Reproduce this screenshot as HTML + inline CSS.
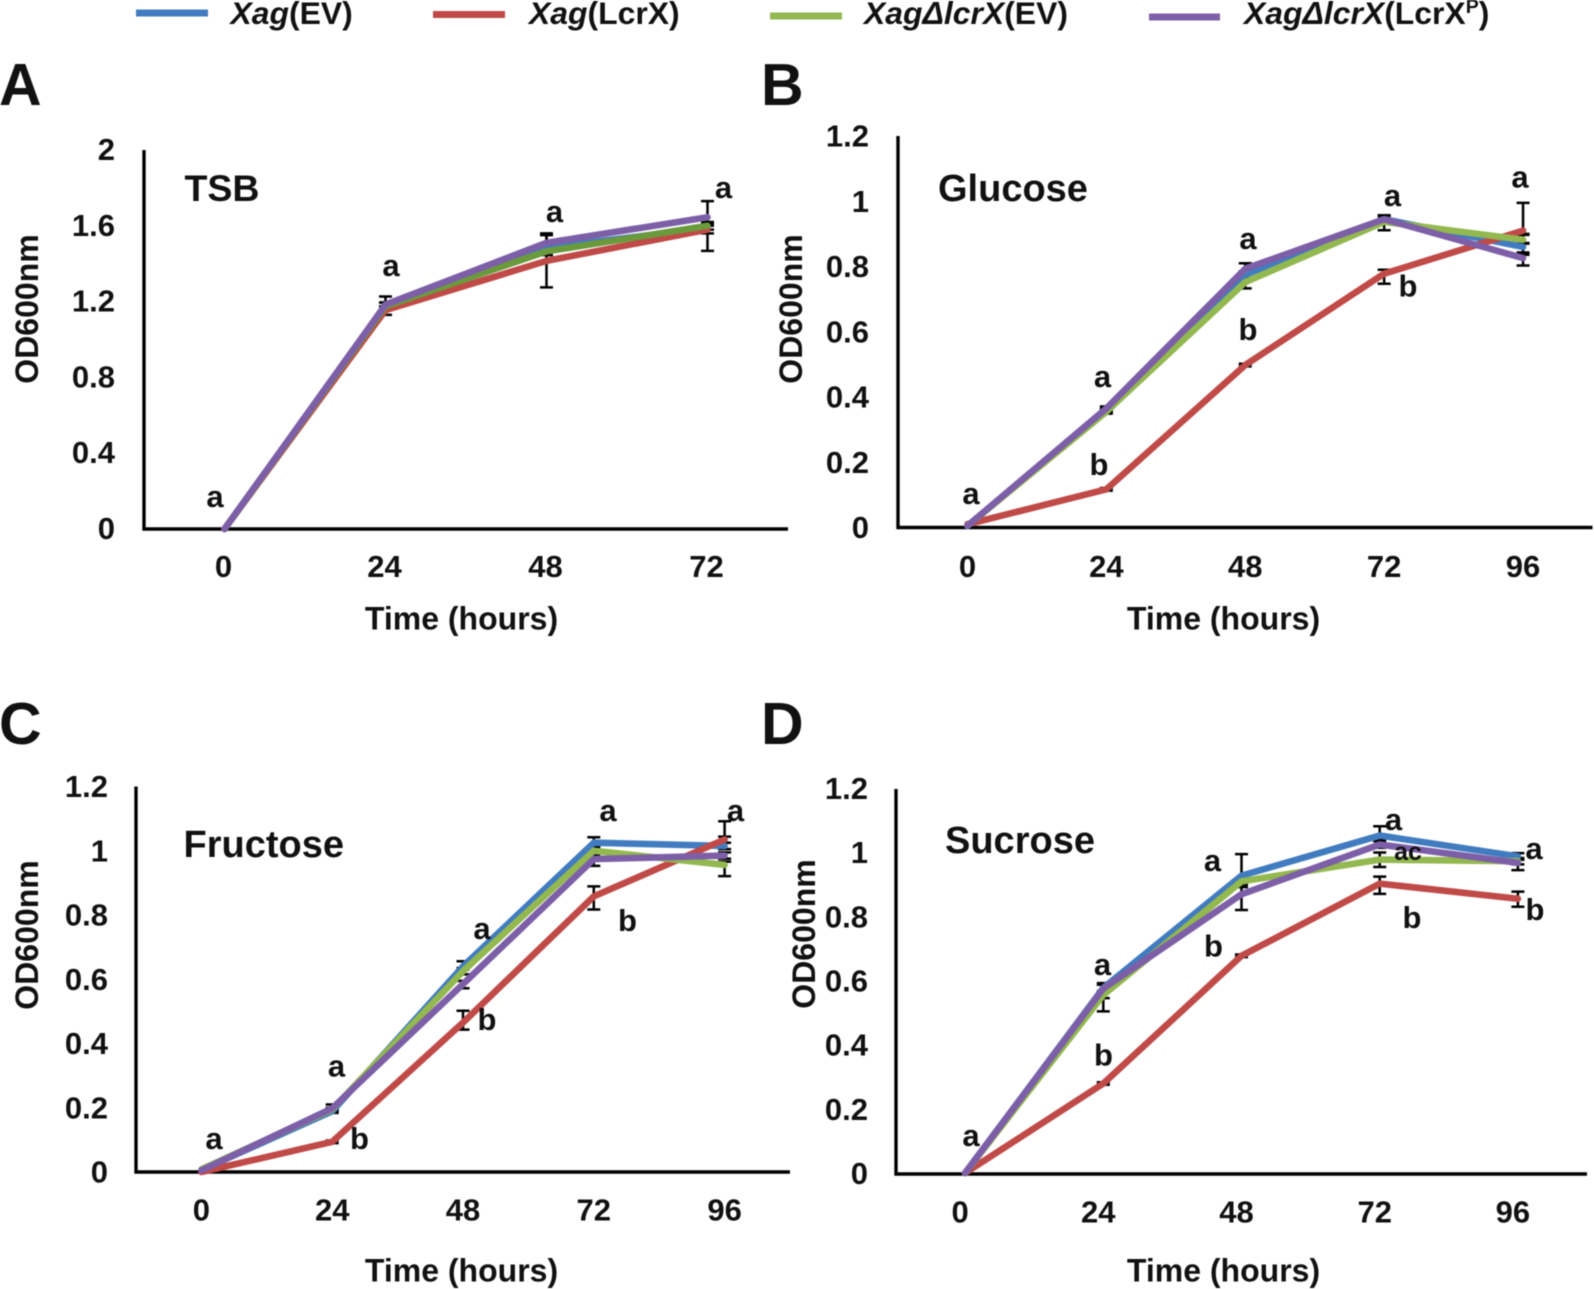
<!DOCTYPE html>
<html lang="en">
<head>
<meta charset="utf-8">
<title>Growth curves</title>
<style>
html,body{margin:0;padding:0;background:#fff;}
svg{display:block;filter:blur(0.4px);}
text{font-family:"Liberation Sans",Arial,sans-serif;font-weight:bold;fill:#111;}
</style>
</head>
<body>
<svg id="figure" xmlns="http://www.w3.org/2000/svg" width="1594" height="1289" viewBox="0 0 1594 1289">
  <rect x="0" y="0" width="1594" height="1289" fill="#ffffff"/>

  <g font-size="31.9">
    <g>
      <line x1="136" y1="13" x2="208" y2="13" stroke="#427cc0" stroke-width="7"/>
      <text x="230.5" y="24"><tspan font-style="italic">Xag</tspan>(EV)</text>
    </g>
    <g>
      <line x1="433" y1="14.5" x2="505" y2="14.5" stroke="#c04a47" stroke-width="7"/>
      <text x="529" y="24"><tspan font-style="italic">Xag</tspan>(LcrX)</text>
    </g>
    <g>
      <line x1="770" y1="16" x2="842" y2="16" stroke="#92b84f" stroke-width="7"/>
      <text x="864" y="24"><tspan font-style="italic">XagΔlcrX</tspan>(EV)</text>
    </g>
    <g>
      <line x1="1149" y1="17" x2="1220" y2="17" stroke="#7d5fa8" stroke-width="7"/>
      <text x="1244" y="24"><tspan font-style="italic">XagΔlcrX</tspan>(LcrX<tspan font-size="19.5" dy="-11">P</tspan><tspan dy="11">)</tspan></text>
    </g>
  </g>

  <g font-size="59">
    <text x="-1" y="105">A</text>
    <text x="761" y="105">B</text>
    <text x="-1" y="744">C</text>
    <text x="761" y="744">D</text>
  </g>

  <g>
    <text font-size="37.5" x="184.5" y="201">TSB</text>
    <text font-size="38" x="938" y="201">Glucose</text>
    <text font-size="38" x="183.5" y="857">Fructose</text>
    <text font-size="38" x="945" y="853">Sucrose</text>
  </g>

  <g id="charts"></g>

  <g font-size="31" text-anchor="middle">
    <text x="215" y="507">a</text><text x="391" y="276">a</text><text x="554.5" y="222">a</text><text x="723.5" y="198">a</text>
  </g>
  <g font-size="31" text-anchor="middle">
    <text x="971" y="504">a</text><text x="1102.5" y="387">a</text><text x="1099" y="475">b</text><text x="1248" y="249">a</text><text x="1248" y="340">b</text><text x="1392.5" y="206">a</text><text x="1408" y="296.5">b</text><text x="1520" y="187.5">a</text>
  </g>
  <g font-size="31" text-anchor="middle">
    <text x="214" y="1149">a</text><text x="336.5" y="1076.5">a</text><text x="359.5" y="1149">b</text><text x="482" y="939">a</text><text x="487" y="1030">b</text><text x="608" y="821">a</text><text x="627.5" y="931">b</text><text x="735.5" y="821">a</text>
  </g>
  <g font-size="31" text-anchor="middle">
    <text x="971" y="1146">a</text><text x="1103.5" y="1065.5">b</text><text x="1102.5" y="975">a</text><text x="1213.5" y="956.5">b</text><text x="1212.5" y="871">a</text><text x="1393.5" y="830">a</text><text x="1408" y="860" font-size="25">ac</text><text x="1412" y="928">b</text><text x="1534" y="859">a</text><text x="1535" y="920">b</text>
  </g>
</svg>
<script>
// ---- shared data ----
const hours4 = ["0", "24", "48", "72"];
const hours5 = ["0", "24", "48", "72", "96"];
const ticksTsb = ["0", "0.4", "0.8", "1.2", "1.6", "2"];
const ticksSugar = ["0", "0.2", "0.4", "0.6", "0.8", "1", "1.2"];

// ---- panel A: TSB ----
const aXagEv = [0, 1.175, 1.485, 1.588];
const aXagLcrx = [0, 1.155, 1.415, 1.58];
const aDeltaEv = [0, 1.175, 1.465, 1.6];
const aDeltaLcrxp = [0, 1.184, 1.51, 1.645];
const aXagEvUp = [0, 0.02, 0.02, 0.02];
const aXagEvDown = [0, 0.02, 0.02, 0.12];
const aXagLcrxUp = [0, 0.02, 0.136, 0.02];
const aXagLcrxDown = [0, 0.025, 0.14, 0.02];
const aDeltaEvUp = [0, 0.02, 0.02, 0.02];
const aDeltaEvDown = [0, 0.02, 0.02, 0.02];
const aDeltaLcrxpUp = [0, 0.043, 0.05, 0.085];
const aDeltaLcrxpDown = [0, 0.03, 0.03, 0.03];

// ---- panel B: Glucose ----
const bXagEv = [0.005, 0.36, 0.775, 0.945, 0.86];
const bXagLcrx = [0.01, 0.117, 0.498, 0.778, 0.91];
const bDeltaEv = [0.005, 0.355, 0.752, 0.937, 0.882];
const bDeltaLcrxp = [0.005, 0.365, 0.793, 0.945, 0.826];
const bXagEvUp = [0, 0.006, 0.01, 0.01, 0.01];
const bXagEvDown = [0, 0.006, 0.01, 0.01, 0.017];
const bXagLcrxUp = [0, 0.004, 0.004, 0.012, 0.085];
const bXagLcrxDown = [0, 0.004, 0.004, 0.031, 0.01];
const bDeltaEvUp = [0, 0.006, 0.01, 0.01, 0.015];
const bDeltaEvDown = [0, 0.006, 0.019, 0.026, 0.01];
const bDeltaLcrxpUp = [0, 0.006, 0.017, 0.012, 0.01];
const bDeltaLcrxpDown = [0, 0.006, 0.01, 0.01, 0.023];

// ---- panel C: Fructose ----
const cXagEv = [0.006, 0.189, 0.64, 1.025, 1.015];
const cXagLcrx = [0, 0.094, 0.465, 0.858, 1.035];
const cDeltaEv = [0.008, 0.195, 0.625, 1.0, 0.956];
const cDeltaLcrxp = [0.005, 0.198, 0.585, 0.974, 0.985];
const cXagEvUp = [0, 0.005, 0.016, 0.017, 0.029];
const cXagEvDown = [0, 0.005, 0.01, 0.01, 0.01];
const cXagLcrxUp = [0, 0.004, 0.037, 0.031, 0.057];
const cXagLcrxDown = [0, 0.004, 0.022, 0.041, 0.01];
const cDeltaEvUp = [0, 0.005, 0.01, 0.01, 0.01];
const cDeltaEvDown = [0, 0.005, 0.01, 0.01, 0.035];
const cDeltaLcrxpUp = [0, 0.012, 0.01, 0.01, 0.01];
const cDeltaLcrxpDown = [0, 0.005, 0.013, 0.021, 0.01];

// ---- panel D: Sucrose ----
const dXagEv = [0.003, 0.58, 0.93, 1.055, 0.99];
const dXagLcrx = [0.003, 0.282, 0.68, 0.905, 0.858];
const dDeltaEv = [0.003, 0.558, 0.912, 0.98, 0.975];
const dDeltaLcrxp = [0.003, 0.578, 0.872, 1.027, 0.97];
const dXagEvUp = [0, 0.01, 0.067, 0.029, 0.01];
const dXagEvDown = [0, 0.01, 0.01, 0.01, 0.01];
const dXagLcrxUp = [0, 0.004, 0.004, 0.022, 0.022];
const dXagLcrxDown = [0, 0.004, 0.004, 0.032, 0.025];
const dDeltaEvUp = [0, 0.01, 0.01, 0.022, 0.01];
const dDeltaEvDown = [0, 0.051, 0.01, 0.023, 0.01];
const dDeltaLcrxpUp = [0, 0.017, 0.022, 0.01, 0.01];
const dDeltaLcrxpDown = [0, 0.03, 0.049, 0.01, 0.023];

const BLUE = "#427cc0", RED = "#c04a47", GREEN = "#92b84f", PURPLE = "#7d5fa8";

const panels = [
  { id: "a", left: 144, right: 788, top: 150, bottom: 529, yMax: 2, cats: hours4, ticks: ticksTsb,
    tickRight: 115, tickDy: 10, catY: 577, catShift: -1, timeX: 461.5, timeY: 629.5, odX: 38, odY: 309,
    series: [
      ["xag-ev", BLUE, aXagEv, aXagEvUp, aXagEvDown],
      ["xag-lcrx", RED, aXagLcrx, aXagLcrxUp, aXagLcrxDown],
      ["delta-lcrx-ev", "#6a9a3c", aDeltaEv, aDeltaEvUp, aDeltaEvDown],
      ["delta-lcrx-lcrxp", PURPLE, aDeltaLcrxp, aDeltaLcrxpUp, aDeltaLcrxpDown]
    ] },
  { id: "b", left: 898, right: 1592.5, top: 136, bottom: 527.5, yMax: 1.2, cats: hours5, ticks: ticksSugar,
    tickRight: 869, tickDy: 10.5, catY: 577, catShift: 0, timeX: 1223.5, timeY: 629.5, odX: 802, odY: 309,
    series: [
      ["xag-ev", BLUE, bXagEv, bXagEvUp, bXagEvDown],
      ["xag-lcrx", RED, bXagLcrx, bXagLcrxUp, bXagLcrxDown],
      ["delta-lcrx-ev", GREEN, bDeltaEv, bDeltaEvUp, bDeltaEvDown],
      ["delta-lcrx-lcrxp", PURPLE, bDeltaLcrxp, bDeltaLcrxpUp, bDeltaLcrxpDown]
    ] },
  { id: "c", left: 136, right: 790, top: 786.5, bottom: 1172, yMax: 1.2, cats: hours5, ticks: ticksSugar,
    tickRight: 108, tickDy: 10.5, catY: 1220.5, catShift: 0, timeX: 461.5, timeY: 1281.5, odX: 38, odY: 935,
    series: [
      ["xag-ev", BLUE, cXagEv, cXagEvUp, cXagEvDown],
      ["xag-lcrx", RED, cXagLcrx, cXagLcrxUp, cXagLcrxDown],
      ["delta-lcrx-ev", GREEN, cDeltaEv, cDeltaEvUp, cDeltaEvDown],
      ["delta-lcrx-lcrxp", PURPLE, cDeltaLcrxp, cDeltaLcrxpUp, cDeltaLcrxpDown]
    ] },
  { id: "d", left: 896, right: 1587, top: 789, bottom: 1174, yMax: 1.2, cats: hours5, ticks: ticksSugar,
    tickRight: 868, tickDy: 10, catY: 1222.5, catShift: -5, timeX: 1223.5, timeY: 1281.5, odX: 815, odY: 934,
    series: [
      ["xag-ev", BLUE, dXagEv, dXagEvUp, dXagEvDown],
      ["xag-lcrx", RED, dXagLcrx, dXagLcrxUp, dXagLcrxDown],
      ["delta-lcrx-ev", GREEN, dDeltaEv, dDeltaEvUp, dDeltaEvDown],
      ["delta-lcrx-lcrxp", PURPLE, dDeltaLcrxp, dDeltaLcrxpUp, dDeltaLcrxpDown]
    ] }
];

const NS = "http://www.w3.org/2000/svg";
const root = document.getElementById("charts");

function make(tag, parent, attrs) {
  const el = document.createElementNS(NS, tag);
  for (const k in attrs) el.setAttribute(k, attrs[k]);
  parent.appendChild(el);
  return el;
}

panels.forEach(function (p) {
  const band = (p.right - p.left) / p.cats.length;
  const xScale = function (i) { return p.left + band * (i + 0.5); };
  const yScale = function (v) { return p.bottom - (v / p.yMax) * (p.bottom - p.top); };

  const g = make("g", root, {});
  
  

  const yAxis = make("line", g, { x1: p.left, y1: p.top, x2: p.left, y2: p.bottom + 1.5, stroke: "#000", "stroke-width": 3.4 });
  
  

  const xAxis = make("line", g, { x1: p.left - 1.5, y1: p.bottom, x2: p.right, y2: p.bottom, stroke: "#000", "stroke-width": 3.6 });
  
  

  p.ticks.forEach(function (t) {
    const label = make("text", g, { x: p.tickRight, y: yScale(parseFloat(t)) + p.tickDy, "text-anchor": "end", "font-size": 31 });
    label.textContent = t;
    
    
  });

  p.cats.forEach(function (c, i) {
    const label = make("text", g, { x: xScale(i) + p.catShift, y: p.catY, "text-anchor": "middle", "font-size": 31 });
    label.textContent = c;
    
    
  });

  const timeTitle = make("text", g, { x: p.timeX, y: p.timeY, "text-anchor": "middle", "font-size": 32 });
  timeTitle.textContent = "Time (hours)";
  
  

  const odTitle = make("text", g, { x: 0, y: 0, "text-anchor": "middle", "font-size": 32, transform: "translate(" + p.odX + "," + p.odY + ") rotate(-90)" });
  odTitle.textContent = "OD600nm";
  
  

  // error bars sit beneath the lines
  p.series.forEach(function (s) {
    const values = s[2], ups = s[3], downs = s[4];
    values.forEach(function (v, i) {
      if (!ups[i] && !downs[i]) return;
      const x = xScale(i);
      const yHi = yScale(v + ups[i]);
      const yLo = yScale(v - downs[i]);
      const bar = make("path", g, {
        d: "M" + x + " " + yHi + "V" + yLo + "M" + (x - 6.5) + " " + yHi + "H" + (x + 6.5) + "M" + (x - 6.5) + " " + yLo + "H" + (x + 6.5),
        fill: "none", stroke: "#000", "stroke-width": 2.5
      });
      
      
    });
  });

  p.series.forEach(function (s) {
    const pts = s[2].map(function (v, i) { return xScale(i) + "," + yScale(v); }).join(" ");
    const line = make("polyline", g, {
      points: pts, fill: "none", stroke: s[1], "stroke-width": 6.6,
      "stroke-linejoin": "round", "stroke-linecap": "round"
    });
    
    
  });
});
</script>
</body>
</html>
